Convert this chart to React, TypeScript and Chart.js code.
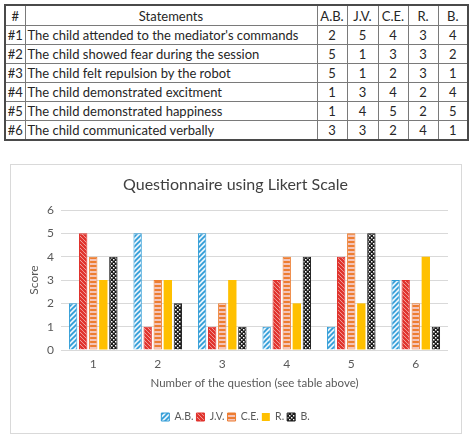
import React, { useEffect, useRef } from "react";
import { Chart, registerables } from "chart.js";

Chart.register(...registerables);

// Questionnaire data
const questionLabels = ["1", "2", "3", "4", "5", "6"];
const statements = [
  "The child attended to the mediator's commands",
  "The child showed fear during the session",
  "The child felt repulsion by the robot",
  "The child demonstrated excitment",
  "The child demonstrated happiness",
  "The child communicated verbally",
];
const participants = ["A.B.", "J.V.", "C.E.", "R.", "B."];
const scoresAB = [2, 5, 5, 1, 1, 3];
const scoresJV = [5, 1, 1, 3, 4, 3];
const scoresCE = [4, 3, 2, 4, 5, 2];
const scoresR = [3, 3, 3, 2, 2, 4];
const scoresB = [4, 2, 1, 4, 5, 1];
const yTicks = [0, 1, 2, 3, 4, 5, 6];

const seriesScores = [scoresAB, scoresJV, scoresCE, scoresR, scoresB];

const FONT = "Lato, 'Open Sans', sans-serif";

function tile(size: number, draw: (g: CanvasRenderingContext2D, s: number) => void) {
  const c = document.createElement("canvas");
  c.width = size;
  c.height = size;
  const g = c.getContext("2d")!;
  draw(g, size);
  return g.createPattern(c, "repeat")!;
}

function diagonal(bg: string, fg: string, width: number, size: number, rising: boolean) {
  return tile(size, (g, s) => {
    g.fillStyle = bg;
    g.fillRect(0, 0, s, s);
    g.strokeStyle = fg;
    g.lineWidth = width;
    g.beginPath();
    if (rising) {
      g.moveTo(-1, s + 1);
      g.lineTo(s + 1, -1);
      g.moveTo(-1, 1);
      g.lineTo(1, -1);
      g.moveTo(s - 1, s + 1);
      g.lineTo(s + 1, s - 1);
    } else {
      g.moveTo(-1, -1);
      g.lineTo(s + 1, s + 1);
      g.moveTo(s - 1, -1);
      g.lineTo(s + 1, 1);
      g.moveTo(-1, s - 1);
      g.lineTo(1, s + 1);
    }
    g.stroke();
  });
}

function makeFills() {
  const ab = diagonal("#e4f2fb", "#2e9bd6", 1.6, 5, true);
  const jv = diagonal("#ffffff", "#e0312b", 2.4, 4, false);
  const ce = tile(4, (g) => {
    g.fillStyle = "#f3c4ba";
    g.fillRect(0, 0, 4, 4);
    g.fillStyle = "#ed7d31";
    g.fillRect(0, 0, 4, 2);
  });
  const b = tile(4, (g) => {
    g.fillStyle = "#1a1a1a";
    g.fillRect(0, 0, 4, 4);
    g.fillStyle = "#ffffff";
    g.fillRect(0, 0, 1.5, 1.5);
    g.fillRect(2, 2, 1.5, 1.5);
  });
  return [ab, jv, ce, "#ffc000", b];
}

const borders = ["#2e9bd6", "#e0312b", "#ed7d31", "#ffc000", "#1a1a1a"];

// Centre the title and legend on the whole frame rather than the padded area.
const centreBlocks = {
  id: "centreBlocks",
  afterLayout(chart: any) {
    const shift = 6;
    for (const box of [chart.legend, chart.titleBlock]) {
      if (box) {
        box.left += shift;
        box.right += shift;
      }
    }
  },
};

function LikertChart() {
  const ref = useRef<HTMLCanvasElement>(null);
  useEffect(() => {
    if (!ref.current) return;
    const fills = makeFills();
    const chart = new Chart(ref.current, {
      type: "bar",
      data: {
        labels: questionLabels,
        datasets: participants.map((name, i) => ({
          label: name,
          data: seriesScores[i],
          backgroundColor: fills[i] as any,
          borderColor: borders[i],
          borderWidth: i === 3 ? 0 : 1,
          categoryPercentage: 0.78,
          barPercentage: 0.83,
        })),
      },
      plugins: [centreBlocks],
      options: {
        animation: false,
        responsive: false,
        maintainAspectRatio: false,
        color: "#595959",
        layout: { padding: { left: 0, right: 13, top: 0, bottom: 0.75 } },
        plugins: {
          title: {
            display: true,
            text: "Questionnaire using Likert Scale",
            color: "#404040",
            font: { family: FONT, size: 16, weight: "normal" },
            padding: { top: 10.4, bottom: 15.4 },
          },
          legend: {
            position: "bottom",
            labels: {
              boxWidth: 8,
              boxHeight: 8,
              padding: 3,
              color: "#595959",
              font: { family: FONT, size: 10.5 },
            },
          },
          tooltip: { enabled: false },
        },
        scales: {
          x: {
            grid: { display: false, drawTicks: false },
            border: { display: false },
            ticks: { color: "#595959", padding: 7, font: { family: FONT, size: 12 } },
            title: {
              display: true,
              text: "Number of the question (see table above)",
              color: "#595959",
              font: { family: FONT, size: 11.5 },
              padding: { top: 0, bottom: 18.8 },
            },
            afterFit: (s: any) => {
              s.height = 58.75;
            },
          },
          y: {
            min: yTicks[0],
            max: yTicks[yTicks.length - 1],
            grid: { color: "#d9d9d9", drawTicks: false, lineWidth: 1 },
            border: { display: false },
            ticks: {
              stepSize: 1,
              color: "#595959",
              padding: 7,
              font: { family: FONT, size: 12 },
            },
            title: {
              display: true,
              text: "Score",
              color: "#595959",
              font: { family: FONT, size: 12 },
              padding: { top: 16, bottom: 0 },
            },
            afterFit: (s: any) => {
              s.width = 50;
            },
          },
        },
      },
    });
    return () => chart.destroy();
  }, []);
  return (
    <canvas
      ref={ref}
      width={450}
      height={268}
      style={{ position: "absolute", left: 11, top: 165, width: 450, height: 268 }}
    />
  );
}

const scoresByQuestion = questionLabels.map((_, q) => seriesScores.map((s) => s[q]));

export default function App() {
  const cell: React.CSSProperties = {
    border: "1px solid #7a7a7a",
    padding: 0,
    height: 18,
    lineHeight: "18px",
    textAlign: "center",
    whiteSpace: "nowrap",
    overflow: "hidden",
  };
  return (
    <div
      style={{
        position: "fixed",
        left: 0,
        top: 0,
        width: 473,
        height: 439,
        background: "#ffffff",
        fontFamily: FONT,
        color: "#262626",
      }}
    >
      <table
        style={{
          position: "absolute",
          left: 4,
          top: 4,
          width: 463,
          borderCollapse: "collapse",
          tableLayout: "fixed",
          fontSize: 13,
          border: "2px solid #4a4a4a",
        }}
      >
        <colgroup>
          <col style={{ width: 20 }} />
          <col style={{ width: 292 }} />
          <col style={{ width: 30 }} />
          <col style={{ width: 31 }} />
          <col style={{ width: 30 }} />
          <col style={{ width: 30 }} />
          <col style={{ width: 30 }} />
        </colgroup>
        <thead>
          <tr>
            <th style={{ ...cell, fontWeight: "normal", height: 19 }}>#</th>
            <th style={{ ...cell, fontWeight: "normal", height: 19 }}>Statements</th>
            {participants.map((p) => (
              <th key={p} style={{ ...cell, fontWeight: "normal", height: 19 }}>
                {p}
              </th>
            ))}
          </tr>
        </thead>
        <tbody>
          {statements.map((st, i) => (
            <tr key={i}>
              <td style={cell}>{"#" + (i + 1)}</td>
              <td style={{ ...cell, textAlign: "left", paddingLeft: 2 }}>{st}</td>
              {scoresByQuestion[i].map((v, j) => (
                <td key={j} style={cell}>
                  {v}
                </td>
              ))}
            </tr>
          ))}
        </tbody>
      </table>
      <div
        style={{
          position: "absolute",
          left: 10,
          top: 164,
          width: 452,
          height: 270,
          boxSizing: "border-box",
          border: "1px solid #d9d9d9",
        }}
      />
      <LikertChart />
    </div>
  );
}
